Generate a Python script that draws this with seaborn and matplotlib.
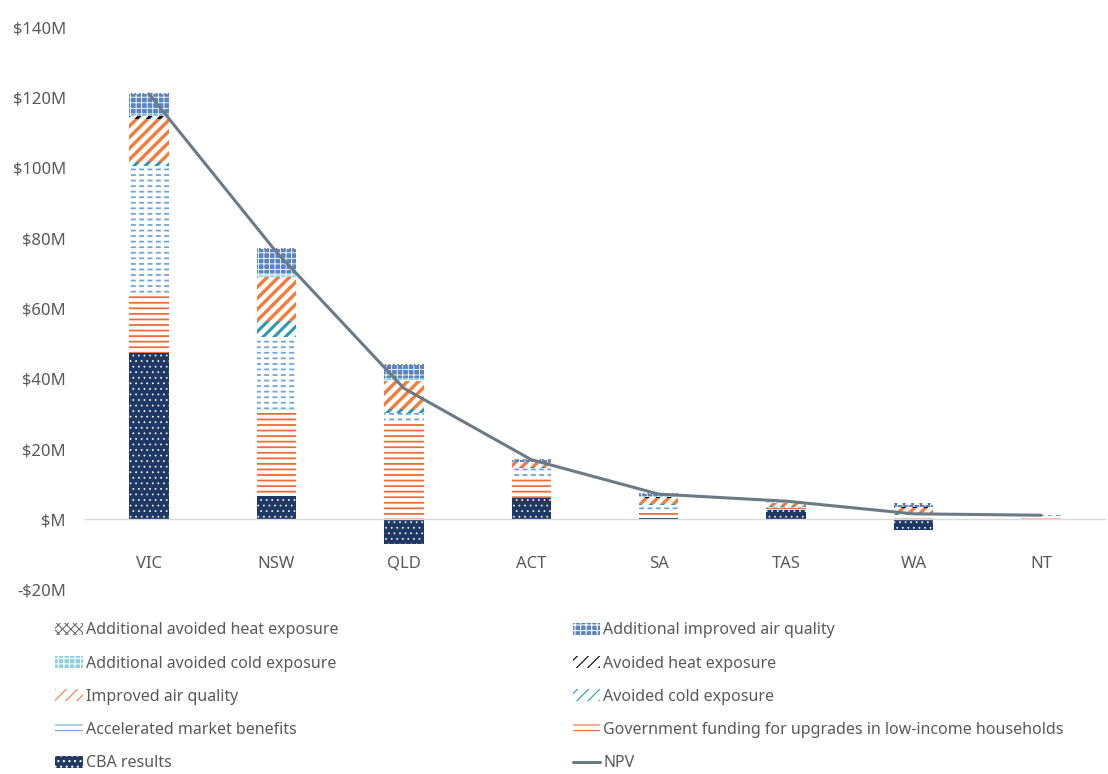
import numpy as np
import seaborn as sns
import matplotlib.pyplot as plt

# ---------------------------------
# Data ($M per state)
# ---------------------------------
states = ['VIC', 'NSW', 'QLD', 'ACT', 'SA', 'TAS', 'WA', 'NT']

cba_results = [47.4, 6.8, -7.0, 6.0, 0.5, 2.6, -3.1, 0.0]
gov_funding = [16.2, 24.7, 27.2, 5.5, 2.1, 0.6, 0.6, 0.8]
accel_market = [37.0, 20.5, 3.0, 3.0, 1.4, 0.4, 0.8, 0.1]
avoided_cold = [1.0, 4.3, 1.3, 0.3, 0.4, 0.2, 0.5, 0.0]
improved_air = [12.2, 12.5, 7.8, 1.4, 1.8, 0.8, 1.4, 0.1]
avoided_heat = [0.8, 0.2, 0.2, 0.1, 0.2, 0.1, 0.1, 0.0]
add_cold = [0.3, 1.0, 0.7, 0.1, 0.2, 0.1, 0.2, 0.0]
add_air = [6.0, 6.8, 3.8, 0.4, 0.6, 0.2, 0.6, 0.1]
add_heat = [0.3, 0.4, 0.3, 0.3, 0.3, 0.2, 0.4, 0.2]

npv = [121.0, 76.0, 37.3, 17.0, 7.2, 5.2, 1.6, 1.2]

ytick_values = [-20, 0, 20, 40, 60, 80, 100, 120, 140]
ytick_labels = ['-$20M', '$M', '$20M', '$40M', '$60M', '$80M',
                '$100M', '$120M', '$140M']

# ---------------------------------
# Styles
# ---------------------------------
sns.set_theme(style='white')
plt.rcParams['font.family'] = ['Noto Sans', 'DejaVu Sans']

grey = '#595959'
bar_width = 0.31

# label, values, facecolor, hatch, hatch colour, hatch width
series = [
    ('Government funding for upgrades in low-income households',
     gov_funding, 'white', '---', '#f26b3a', 1.3),
    ('Accelerated market benefits', accel_market, 'white', '---', '#6fa5dc', 1.3),
    ('Avoided cold exposure', avoided_cold, 'white', '///', '#2a98b0', 2.2),
    ('Improved air quality', improved_air, 'white', '///', '#f47b3a', 2.4),
    ('Avoided heat exposure', avoided_heat, 'white', '///', 'black', 2.2),
    ('Additional avoided cold exposure', add_cold, '#8fd0dc', '+++', 'white', 0.6),
    ('Additional improved air quality', add_air, '#5a85c0', '+++', 'white', 0.6),
    ('Additional avoided heat exposure', add_heat, 'white', 'xxxx', '#6e6e6e', 0.8),
]


def hatched_bar(ax, x, values, bottom, face, hatch, hcolor, hlw, label):
    """Draw one stacked layer with a coloured hatch."""
    plt.rcParams['hatch.linewidth'] = hlw
    bars = ax.bar(x, values, width=bar_width, bottom=bottom, color=face,
                  edgecolor=hcolor, hatch=hatch, linewidth=0, label=label)
    for b in bars:
        if hasattr(b, 'set_hatch_linewidth'):
            b.set_hatch_linewidth(hlw)
    return bars


# ---------------------------------
# Plot
# ---------------------------------
fig, ax = plt.subplots(figsize=(11.08, 7.74), dpi=100)
fig.subplots_adjust(left=0.077, right=0.997, top=0.965, bottom=0.238)

x = np.arange(len(states))

# CBA results sit on zero (can be negative)
handles = {}
handles['CBA results'] = hatched_bar(ax, x, cba_results, 0, '#1f3864', '...',
                                     'white', 0.5, 'CBA results')

# Positive layers stack on top of the positive part of CBA
base = np.clip(np.array(cba_results), 0, None)
for label, vals, face, hatch, hcol, hlw in series:
    vals = np.array(vals)
    handles[label] = hatched_bar(ax, x, vals, base, face, hatch, hcol, hlw, label)
    if label == 'Accelerated market benefits':
        # break the lines into dashes
        hatched_bar(ax, x, vals, base, 'none', '||', 'white', 2.4, None)
    base = base + vals

# NPV line
sns.lineplot(x=x, y=npv, ax=ax, color='#6b7b86', linewidth=2.2,
             label='NPV', legend=False)
handles['NPV'] = ax.get_lines()[-1]

# Axes config
ax.set_xlim(-0.5, len(states) - 0.5)
ax.set_ylim(-20, 140)
ax.set_yticks(ytick_values)
ax.set_yticklabels(ytick_labels)
ax.set_xticks(x)
ax.set_xticklabels(states)
ax.tick_params(axis='both', length=0, labelsize=12, labelcolor=grey)
ax.tick_params(axis='y', pad=14)
ax.tick_params(axis='x', pad=26)
for s in ['top', 'right', 'left']:
    ax.spines[s].set_visible(False)
ax.spines['bottom'].set_position(('data', 0))
ax.spines['bottom'].set_color('#d9d9d9')
ax.spines['bottom'].set_linewidth(1.0)

# Legends (two columns, read row-wise)
col1 = ['Additional avoided heat exposure', 'Additional avoided cold exposure',
        'Improved air quality', 'Accelerated market benefits', 'CBA results']
col2 = ['Additional improved air quality', 'Avoided heat exposure',
        'Avoided cold exposure',
        'Government funding for upgrades in low-income households', 'NPV']

leg_kw = dict(loc='upper left', frameon=False, fontsize=11.5,
              labelcolor=grey, handlelength=1.7, handleheight=0.75,
              handletextpad=0.2, labelspacing=1.08, borderpad=0,
              borderaxespad=0)
fig.legend([handles[k] for k in col1], col1,
           bbox_to_anchor=(0.05, 0.196), **leg_kw)
fig.legend([handles[k] for k in col2], col2,
           bbox_to_anchor=(0.517, 0.196), **leg_kw)

plt.savefig('out.png', dpi=100)
